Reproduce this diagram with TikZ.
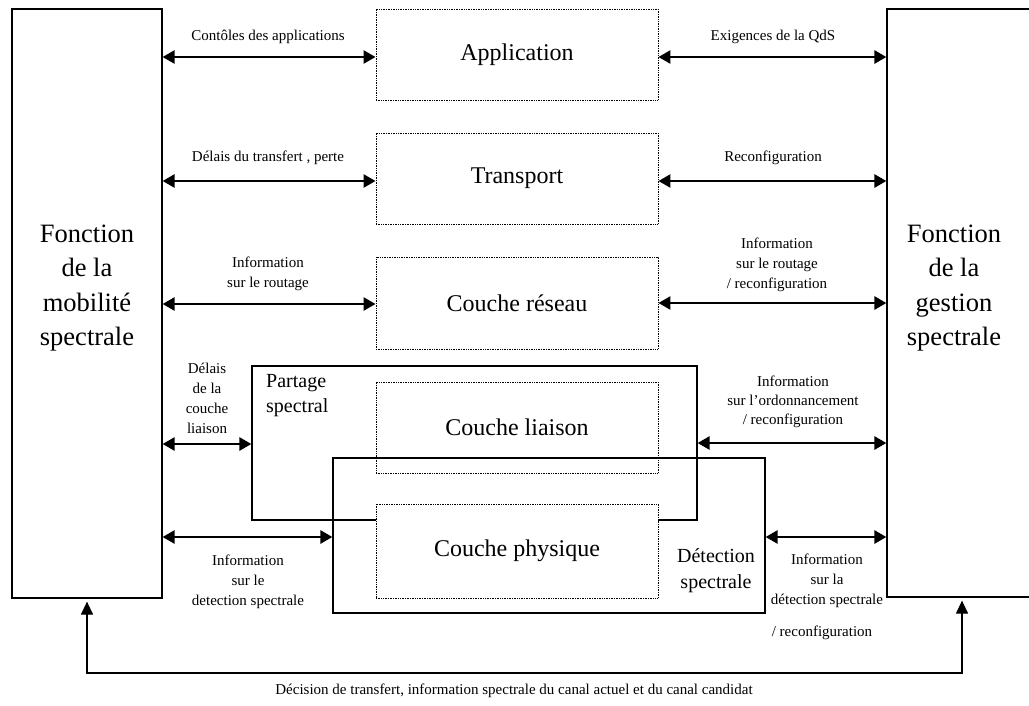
\documentclass[tikz,border=0pt]{standalone}
\usepackage{fontspec}
\setmainfont{Liberation Serif}
\usetikzlibrary{arrows.meta}

\begin{document}
\begin{tikzpicture}[x=1pt,y=-1pt,
  layer/.style={draw, dash pattern=on 0.8pt off 0.9pt, line width=0.9pt,
    minimum width=282pt, inner sep=0pt, font=\fontsize{24}{28}\selectfont},
  func/.style={draw, line width=1.2pt, minimum width=150pt, inner sep=0pt},
  functext/.style={align=center, inner sep=0pt, font=\fontsize{26.5}{34.5}\selectfont},
  zone/.style={draw, line width=1.2pt, inner sep=0pt},
  zonetext/.style={inner sep=0pt, font=\fontsize{20}{25.5}\selectfont},
  lbl/.style={font=\fontsize{15}{20}\selectfont, align=center, inner sep=0pt},
  biarrow/.style={line width=2.6pt,
    {Triangle[length=12pt,width=13pt]}-{Triangle[length=12pt,width=13pt]}},
  feedback/.style={line width=1.2pt,
    {Triangle[length=13pt,width=12pt]}-{Triangle[length=13pt,width=12pt]},
    shorten <=3pt, shorten >=3pt}
]
\useasboundingbox (0,0) rectangle (1029,705);
\clip (0,0) rectangle (1029,705);

% spectrum functions on both sides
\node[func, minimum height=589pt] (mob) at (87,303.5) {};
\node[functext] (mobtxt) at (87,288) {Fonction\\de la\\mobilité\\spectrale};
\node[func, minimum height=588pt] (gest) at (962,303) {};
\node[functext] (gesttxt) at (954,288) {Fonction\\de la\\gestion\\spectrale};

% protocol layers
\node[layer, minimum height=91pt] (app) at (517,54.5) {Application};
\node[layer, minimum height=91pt] (trans) at (517,178.5) {Transport};
\node[layer, minimum height=92pt] (res) at (517,303) {Couche réseau};
\node[layer, minimum height=91pt] (liai) at (517,427.5) {Couche liaison};

% spectrum sharing and sensing zones
\node[zone, minimum width=445pt, minimum height=154pt] (part) at (474.5,443) {};
\node[zonetext, align=left, anchor=west] (parttxt) at (266,395.5) {Partage\\spectral};
\node[zone, minimum width=432pt, minimum height=155pt] (det) at (549,535.5) {};
\node[zonetext, align=center] (dettxt) at (716,570.5) {Détection\\spectrale};

\node[layer, minimum height=94pt, fill=white] (phys) at (517,551) {Couche physique};

% exchanges with the mobility function
\draw[biarrow] ([yshift=-2.5pt]app.west -| mob.east) -- ([yshift=-2.5pt]app.west);
\node[lbl] (l1) at (268,37) {Contôles des applications};
\draw[biarrow] ([yshift=-2.5pt]trans.west -| mob.east) -- ([yshift=-2.5pt]trans.west);
\node[lbl] (l2) at (268,158) {Délais du transfert , perte};
\draw[biarrow] ([yshift=-1pt]res.west -| mob.east) -- ([yshift=-1pt]res.west);
\node[lbl] (l3) at (268,273.5) {Information\\sur le routage};
\draw[biarrow] ([yshift=-1pt]part.west -| mob.east) -- ([yshift=-1pt]part.west);
\node[lbl] (l4) at (207,398) {Délais\\de la\\couche\\liaison};
\draw[biarrow] ([yshift=-1.5pt]det.west -| mob.east) -- ([yshift=-1.5pt]det.west);
\node[lbl] (l5) at (248,582) {Information\\sur le\\detection spectrale};

% exchanges with the management function
\draw[biarrow] ([yshift=-2.5pt]app.east) -- ([yshift=-2.5pt]app.east -| gest.west);
\node[lbl] (r1) at (773,37) {Exigences de la QdS};
\draw[biarrow] ([yshift=-2.5pt]trans.east) -- ([yshift=-2.5pt]trans.east -| gest.west);
\node[lbl] (r2) at (773,158) {Reconfiguration};
\draw[biarrow] (res.east) -- (res.east -| gest.west);
\node[lbl] (r3) at (777,265) {Information\\sur le routage\\/ reconfiguration};
\draw[biarrow] (part.east) -- (part.east -| gest.west);
\node[lbl, font=\fontsize{15}{19}\selectfont] (r4) at (793,402) {Information\\sur l'ordonnancement\\/ reconfiguration};
\draw[biarrow] ([yshift=-1.5pt]det.east) -- ([yshift=-1.5pt]det.east -| gest.west);
\node[lbl] (r5) at (827,581) {Information\\sur la\\détection spectrale};
\node[lbl] (r6) at (822,633) {/ reconfiguration};

% handover decision loop
\coordinate (loop) at (0,673);
\draw[feedback] (mob.south) -- (mob.south |- loop) -- (gest.south |- loop) -- (gest.south);
\node[lbl] (bottom) at (514,691) {Décision de transfert, information spectrale du canal actuel et du canal candidat};
\end{tikzpicture}
\end{document}
